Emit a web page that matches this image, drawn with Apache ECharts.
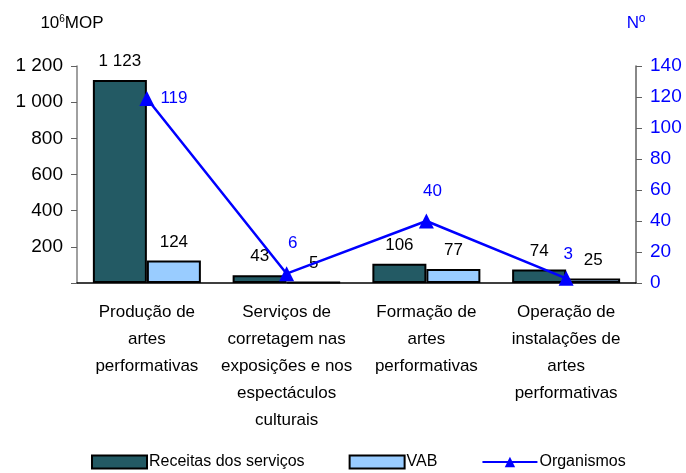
<!DOCTYPE html>
<html>
<head>
<meta charset="utf-8">
<script src="https://cdn.jsdelivr.net/npm/echarts@6/dist/echarts.min.js"></script>
<style>
  html, body { margin: 0; padding: 0; background: #fff; }
  #chart { width: 686px; height: 473px; }
</style>
</head>
<body>
<div id="chart"></div>
<script>
const categories = [
  'Produção de\nartes\nperformativas',
  'Serviços de\ncorretagem nas\nexposições e nos\nespectáculos\nculturais',
  'Formação de\nartes\nperformativas',
  'Operação de\ninstalações de\nartes\nperformativas'
]
const receitas = [1123, 43, 106, 74]
const vab = [124, 5, 77, 25]
const organismos = [119, 6, 40, 3]
const leftTicks = [0, 1200, 200]
const rightTicks = [0, 140, 20]

const FONT = '"Liberation Sans", Arial, sans-serif'

// espaço como separador de milhares
function fmt(v) {
  return String(v).replace(/\B(?=(\d{3})+(?!\d))/g, ' ')
}

const lineLabels = [
  { position: 'right', offset: [-6, 0] },
  { position: 'top', offset: [6, -2] },
  { position: 'top', offset: [6, -2] },
  { position: 'top', offset: [2, 4] }
]

const chart = echarts.init(document.getElementById('chart'))

chart.setOption({
  animation: false,
  textStyle: { fontFamily: FONT },
  grid: { left: 77, right: 50, top: 66, bottom: 190 },
  legend: {
    left: 86,
    bottom: -2,
    itemWidth: 55,
    itemHeight: 13,
    itemGap: 44,
    textStyle: { fontSize: 16, color: '#000', fontFamily: FONT, padding: [0, 0, 0, -3] },
    data: [
      { name: 'Receitas dos serviços', icon: 'rect' },
      { name: 'VAB', icon: 'rect' },
      { name: 'Organismos' }
    ]
  },
  xAxis: {
    type: 'category',
    data: categories,
    axisLine: { lineStyle: { color: '#000', width: 1.5 } },
    axisTick: { inside: true, length: 6, lineStyle: { color: '#000' } },
    axisLabel: {
      color: '#000',
      fontSize: 17,
      lineHeight: 27,
      margin: 16,
      interval: 0,
      fontFamily: FONT
    }
  },
  yAxis: [
    {
      type: 'value',
      min: leftTicks[0],
      max: leftTicks[1],
      interval: leftTicks[2],
      name: '10{sup|6}MOP',
      nameLocation: 'end',
      nameGap: 34,
      nameTextStyle: {
        color: '#000',
        fontSize: 17,
        fontFamily: FONT,
        align: 'center',
        padding: [0, 10, 0, 0],
        rich: { sup: { fontSize: 10, verticalAlign: 'top', padding: [0, 0, 8, 0], fontFamily: FONT } }
      },
      axisLine: { show: true, lineStyle: { color: '#808080', width: 1.5 } },
      axisTick: { show: true, length: 6, lineStyle: { color: '#606060' } },
      splitLine: { show: false },
      axisLabel: {
        color: '#000',
        fontSize: 19,
        margin: 14,
        fontFamily: FONT,
        formatter: (v) => (v === 0 ? '' : fmt(v))
      }
    },
    {
      type: 'value',
      min: rightTicks[0],
      max: rightTicks[1],
      interval: rightTicks[2],
      name: 'Nº',
      nameLocation: 'end',
      nameGap: 34,
      nameTextStyle: { color: '#0000ff', fontSize: 17, fontFamily: FONT, align: 'center' },
      axisLine: { show: true, lineStyle: { color: '#606060', width: 1.5 } },
      axisTick: { show: true, length: 6, lineStyle: { color: '#606060' } },
      splitLine: { show: false },
      axisLabel: { color: '#0000ff', fontSize: 19, margin: 14, fontFamily: FONT }
    }
  ],
  series: [
    {
      name: 'Receitas dos serviços',
      type: 'bar',
      data: receitas,
      barWidth: 54,
      barGap: '0%',
      itemStyle: { color: '#235a64', borderColor: '#000', borderWidth: 2 },
      label: {
        show: true,
        position: 'top',
        distance: 10,
        color: '#000',
        fontSize: 17,
        fontFamily: FONT,
        formatter: (p) => fmt(p.value)
      }
    },
    {
      name: 'VAB',
      type: 'bar',
      data: vab,
      barWidth: 54,
      barGap: '0%',
      itemStyle: { color: '#99ccff', borderColor: '#000', borderWidth: 2 },
      label: {
        show: true,
        position: 'top',
        distance: 10,
        color: '#000',
        fontSize: 17,
        fontFamily: FONT,
        formatter: (p) => fmt(p.value)
      }
    },
    {
      name: 'Organismos',
      type: 'line',
      yAxisIndex: 1,
      data: organismos.map((v, i) => ({ value: v, label: lineLabels[i] })),
      symbol: 'triangle',
      symbolSize: 15,
      lineStyle: { color: '#0000ff', width: 2.5 },
      itemStyle: { color: '#0000ff' },
      label: {
        show: true,
        color: '#0000ff',
        fontSize: 17,
        fontFamily: FONT,
        distance: 12
      },
      z: 5
    }
  ]
})
</script>
</body>
</html>
